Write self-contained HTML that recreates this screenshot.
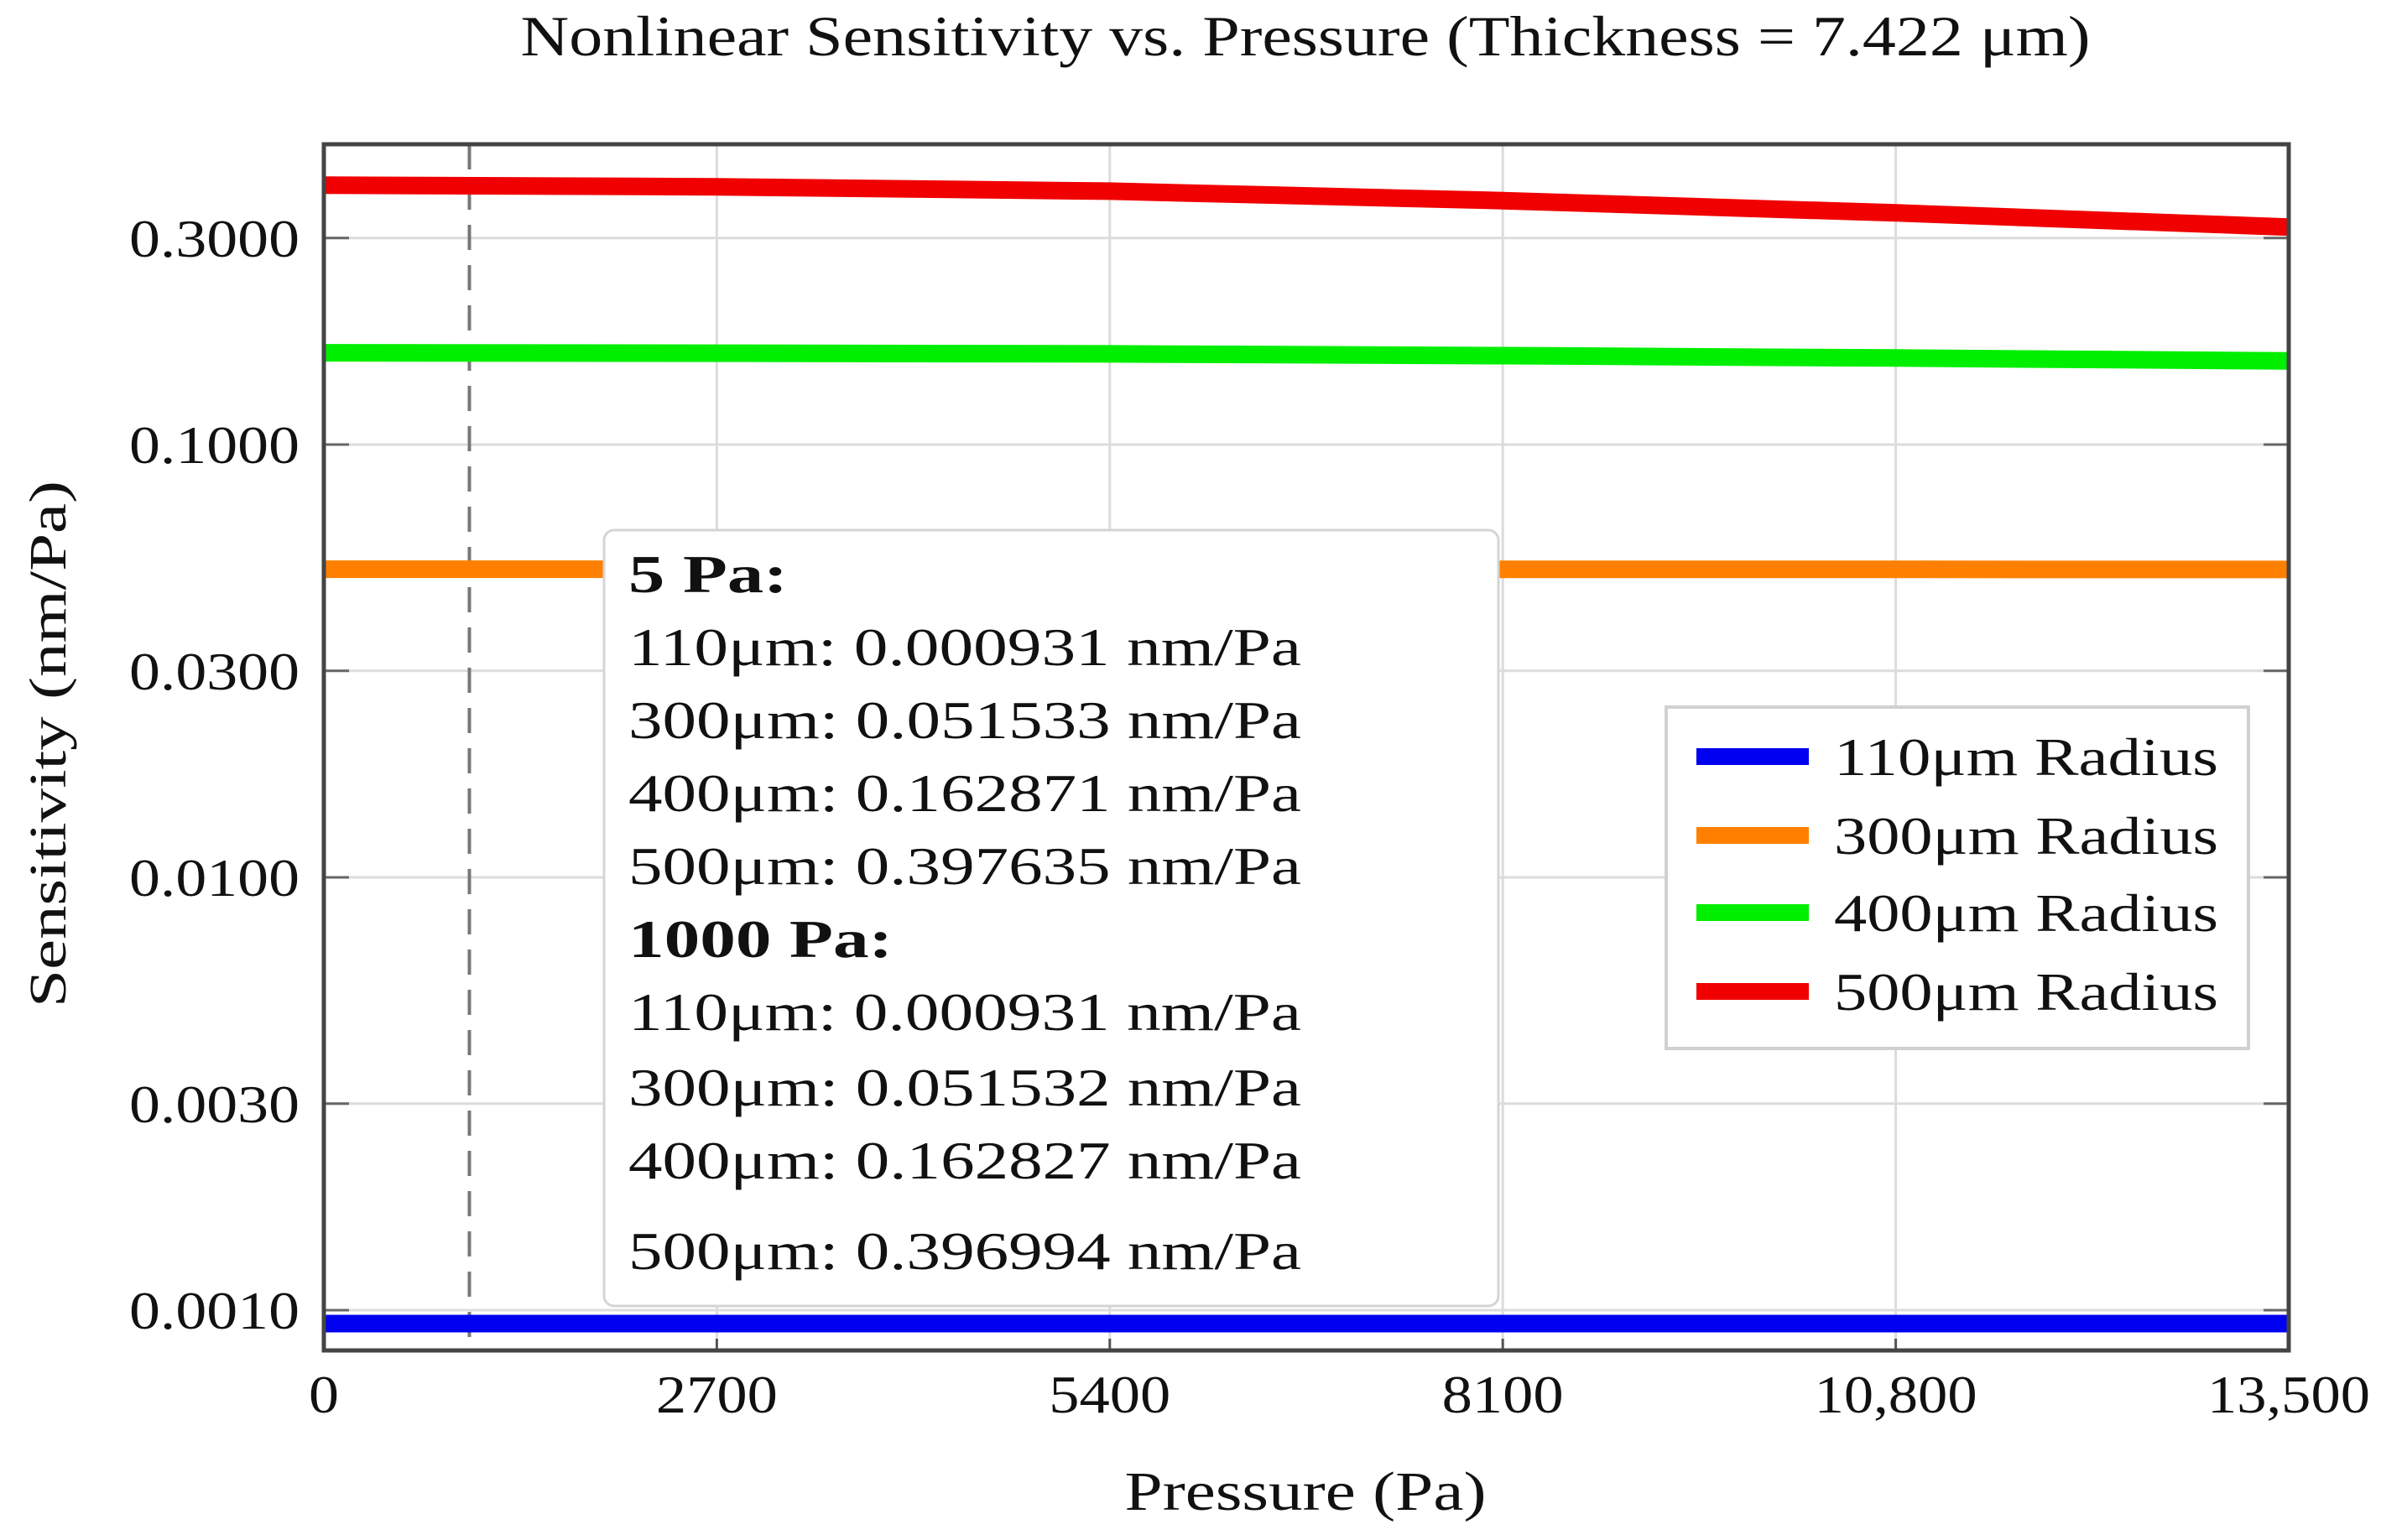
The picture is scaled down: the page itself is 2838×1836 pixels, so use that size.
<!DOCTYPE html>
<html><head><meta charset="utf-8"><style>
html,body{margin:0;padding:0;background:#fff;}
svg{display:block;}
text{font-family:"Liberation Serif","DejaVu Serif",serif;fill:#111;}
</style></head><body>
<svg id="chart" width="2838" height="1836" viewBox="0 0 2838 1836" xmlns="http://www.w3.org/2000/svg">
<rect x="0" y="0" width="2838" height="1836" fill="#fff"/>
<text x="1556" y="66" font-size="68" text-anchor="middle" textLength="1871" lengthAdjust="spacingAndGlyphs">Nonlinear Sensitivity vs. Pressure (Thickness = 7.422 μm)</text>
<g id="grid"></g>
<g id="series"></g>
<g id="axes"></g>
<text x="1556" y="1800" font-size="66" text-anchor="middle" textLength="431" lengthAdjust="spacingAndGlyphs">Pressure (Pa)</text>
<text transform="translate(78,887) rotate(-90)" font-size="62" text-anchor="middle" textLength="628" lengthAdjust="spacingAndGlyphs">Sensitivity (nm/Pa)</text>
<g id="annot">
<rect x="720" y="632" width="1066" height="925" rx="12" fill="#fff" stroke="#d4d4d4" stroke-width="3"/>
</g>
<g id="legend">
<rect x="1986" y="843" width="694" height="407" fill="#fff" stroke="#d0d0d0" stroke-width="4"/>
</g>
</svg>
<script>
const categories = [0, 2700, 5400, 8100, 10800, 13500];
const s110 = [0.000931, 0.000931, 0.000931, 0.000931, 0.000931, 0.000931];
const s300 = [0.05153, 0.05153, 0.05152, 0.05150, 0.05148, 0.05145];
const s400 = [0.1629, 0.1626, 0.1620, 0.1605, 0.1585, 0.156];
const s500 = [0.3976, 0.394, 0.385, 0.366, 0.343, 0.318];
const xTicks = [0, 2700, 5400, 8100, 10800, 13500];
const xTickLabels = ["0", "2700", "5400", "8100", "10,800", "13,500"];
const yTicks = [0.3, 0.1, 0.03, 0.01, 0.003, 0.001];
const yTickLabels = ["0.3000", "0.1000", "0.0300", "0.0100", "0.0030", "0.0010"];
const seriesNames = ["110μm Radius", "300μm Radius", "400μm Radius", "500μm Radius"];
const seriesColors = ["#0000f0", "#ff8000", "#00ee00", "#f00000"];
const annotLines = ["5 Pa:", "110μm:  0.000931 nm/Pa", "300μm:  0.051533 nm/Pa", "400μm:  0.162871 nm/Pa", "500μm:  0.397635 nm/Pa", "1000 Pa:", "110μm:  0.000931 nm/Pa", "300μm:  0.051532 nm/Pa", "400μm:  0.162827 nm/Pa", "500μm:  0.396994 nm/Pa"];
const markerPressure = 1000;

const NS = "http://www.w3.org/2000/svg";
const L = 386, R = 2728, T = 172, B = 1610;
const xMax = 13500;
function xs(v){ return L + (R - L) * v / xMax; }
function ys(v){ return 1562 - 516 * (Math.log10(v) + 3); }
function mk(tag, attrs, parent){ const e = document.createElementNS(NS, tag); for (const k in attrs) e.setAttribute(k, attrs[k]); parent.appendChild(e); return e; }

const grid = document.getElementById('grid');
const axes = document.getElementById('axes');
const series = document.getElementById('series');

xTicks.forEach((t, i) => {
  const x = xs(t);
  const g = mk('line', {x1:x, x2:x, y1:T, y2:B, stroke:'#dcdcdc', 'stroke-width':3}, grid);
  
  
  const tk = mk('line', {x1:x, x2:x, y1:B-14, y2:B, stroke:'#555', 'stroke-width':3}, axes);
  
  
  const lab = xTickLabels[i];
  const w = lab.length === 1 ? 36 : (lab.indexOf(',') >= 0 ? 194 : 145);
  const tx = mk('text', {x:x, y:1684, 'font-size':64, 'text-anchor':'middle', textLength:w, lengthAdjust:'spacingAndGlyphs'}, axes);
  tx.textContent = lab;
  
  
});
yTicks.forEach((t, i) => {
  const y = ys(t);
  const g = mk('line', {x1:L, x2:R, y1:y, y2:y, stroke:'#dcdcdc', 'stroke-width':3}, grid);
  
  
  const tk = mk('line', {x1:L, x2:L+30, y1:y, y2:y, stroke:'#666', 'stroke-width':3}, axes);
  
  
  const tk2 = mk('line', {x1:R-30, x2:R, y1:y, y2:y, stroke:'#666', 'stroke-width':3}, axes);
  
  
  const tx = mk('text', {x:357, y:y+22, 'font-size':64, 'text-anchor':'end', textLength:203, lengthAdjust:'spacingAndGlyphs'}, axes);
  tx.textContent = yTickLabels[i];
  
  
});
const mx = xs(markerPressure);
const dash = mk('line', {x1:mx, x2:mx, y1:T, y2:B, stroke:'#777', 'stroke-width':4, 'stroke-dasharray':'30,18'}, grid);



[s110, s300, s400, s500].forEach((arr, si) => {
  const pts = arr.map((v, i) => xs(categories[i]).toFixed(1) + ',' + ys(v).toFixed(1)).join(' ');
  const pl = mk('polyline', {points:pts, fill:'none', stroke:seriesColors[si], 'stroke-width':21, 'stroke-linejoin':'round'}, series);
  
  
});

const frame = mk('rect', {x:L, y:T, width:R-L, height:B-T, fill:'none', stroke:'#444', 'stroke-width':5}, axes);



const annot = document.getElementById('annot');
const baselines = [706, 793, 880, 967, 1054, 1141, 1228, 1318, 1405, 1513];
annotLines.forEach((s, i) => {
  const bold = s.indexOf('Pa:') >= 0 && s.indexOf('μm') < 0;
  const w = bold ? (s.length > 5 ? 315 : 190) : 802;
  const tx = mk('text', {x:749, y:baselines[i], 'font-size':64, 'font-weight':bold?'bold':'normal', textLength:w, lengthAdjust:'spacingAndGlyphs', 'xml:space':'preserve'}, annot);
  tx.textContent = s;
  
  
});

const legend = document.getElementById('legend');
const legY = [902, 996, 1088, 1182];
seriesNames.forEach((n, i) => {
  const ln = mk('line', {x1:2022, x2:2156, y1:legY[i], y2:legY[i], stroke:seriesColors[i], 'stroke-width':20}, legend);
  
  
  const tx = mk('text', {x:2186, y:legY[i]+22, 'font-size':64, textLength:458, lengthAdjust:'spacingAndGlyphs'}, legend);
  tx.textContent = n;
  
  
});
</script>
</body></html>
